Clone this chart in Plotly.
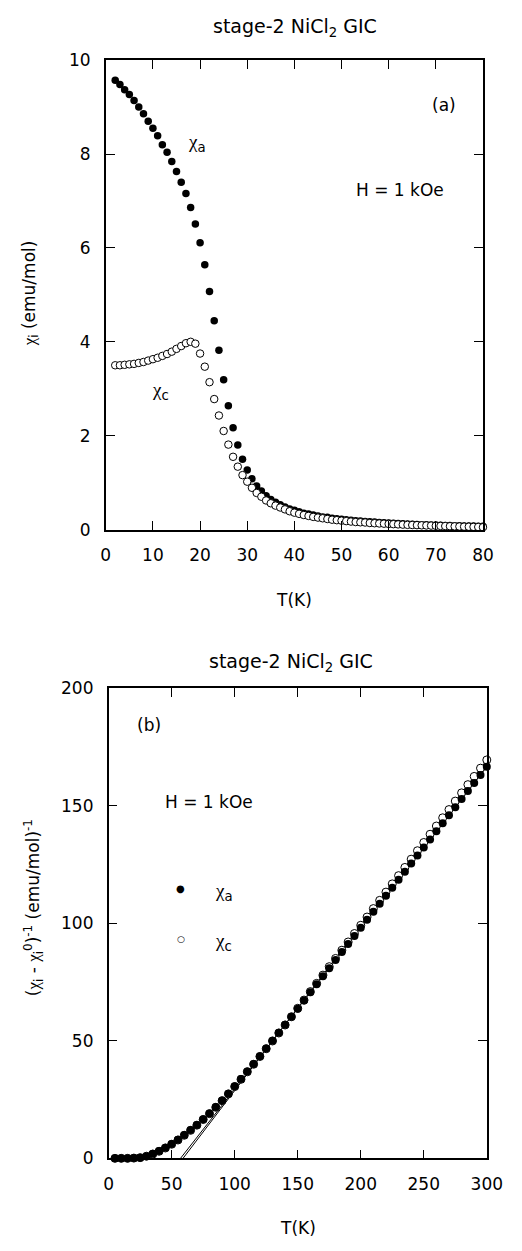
import plotly.graph_objects as go

# ---------------- data: panel (a) ----------------
T_a = list(range(2, 81))
chi_a_top = [9.57, 9.48, 9.37, 9.27, 9.14, 9.00, 8.86, 8.70, 8.55, 8.39, 8.20, 8.04, 7.84, 7.63, 7.40,
             7.16, 6.86, 6.51, 6.11, 5.64, 5.07, 4.45, 3.82, 3.19, 2.64, 2.17, 1.80, 1.50, 1.27, 1.08,
             0.93, 0.82, 0.72, 0.64, 0.58, 0.53, 0.48, 0.44, 0.41, 0.38, 0.35, 0.33, 0.31, 0.29, 0.27,
             0.26, 0.24, 0.23, 0.22, 0.21, 0.20, 0.19, 0.18, 0.17, 0.165, 0.16, 0.15, 0.145, 0.14, 0.135,
             0.13, 0.125, 0.12, 0.115, 0.11, 0.105, 0.10, 0.098, 0.095, 0.092, 0.089, 0.086, 0.083, 0.080,
             0.078, 0.076, 0.074, 0.072, 0.070]
chi_c_top = [3.50, 3.50, 3.51, 3.52, 3.53, 3.55, 3.57, 3.60, 3.63, 3.66, 3.70, 3.74, 3.79, 3.85, 3.91,
             3.97, 4.00, 3.96, 3.75, 3.47, 3.14, 2.78, 2.43, 2.10, 1.81, 1.55, 1.34, 1.16, 1.02, 0.89,
             0.78, 0.70, 0.62, 0.56, 0.51, 0.47, 0.43, 0.39, 0.36, 0.335, 0.31, 0.29, 0.27, 0.255, 0.24,
             0.225, 0.21, 0.20, 0.19, 0.18, 0.17, 0.16, 0.155, 0.15, 0.14, 0.135, 0.13, 0.125, 0.12, 0.115,
             0.11, 0.105, 0.10, 0.097, 0.094, 0.09, 0.087, 0.084, 0.08, 0.077, 0.074, 0.071, 0.068, 0.065,
             0.062, 0.06, 0.057, 0.055, 0.05]

# ---------------- data: panel (b) ----------------
T_b = list(range(5, 301, 5))
inv_a = [0.0, 0.0, 0.0, 0.1, 0.3, 0.9, 1.9, 3.1, 4.5, 6.1, 7.9, 9.9, 12.0, 14.2, 16.6, 19.1, 21.8, 24.6,
         27.5, 30.6, 33.7, 36.9, 40.1, 43.4, 46.7, 50.0, 53.4, 56.8, 60.2, 63.6, 67.1, 70.6, 74.0, 77.4,
         80.8, 84.3, 87.7, 91.1, 94.5, 98.0, 101.4, 104.8, 108.2, 111.7, 115.1, 118.5, 121.9, 125.4,
         128.8, 132.2, 135.6, 139.1, 142.5, 145.9, 149.3, 152.8, 156.2, 159.6, 163.0, 166.5]
inv_c = [0.0, 0.0, 0.0, 0.1, 0.3, 0.9, 1.8, 3.0, 4.4, 6.0, 7.8, 9.8, 11.9, 14.1, 16.5, 19.0, 21.7, 24.5,
         27.4, 30.5, 33.6, 36.8, 40.0, 43.3, 46.6, 49.9, 53.3, 56.7, 60.2, 63.8, 67.3, 70.9, 74.4, 77.9,
         81.5, 85.0, 88.5, 92.0, 95.6, 99.1, 102.6, 106.2, 109.7, 113.2, 116.7, 120.2, 123.7, 127.2,
         130.8, 134.3, 137.8, 141.3, 144.8, 148.3, 151.9, 155.4, 158.9, 162.4, 165.9, 169.4]
# Curie-Weiss fit lines (end points)
fit_a_T = [57, 300]
fit_a_y = [0, 166.5]
fit_c_T = [59, 300]
fit_c_y = [0, 169.4]

FONT = "DejaVu Sans, sans-serif"
CHI = '<span style="font-family:Liberation Serif">χ</span>'
W, H = 522, 1251

fig = go.Figure()

# panel (a)
fig.add_trace(go.Scatter(x=T_a, y=chi_a_top, mode="markers", xaxis="x", yaxis="y",
                         marker=dict(size=7.5, color="black", line=dict(width=0)),
                         cliponaxis=False, showlegend=False))
fig.add_trace(go.Scatter(x=T_a, y=chi_c_top, mode="markers", xaxis="x", yaxis="y",
                         marker=dict(size=7.5, color="white", line=dict(width=1, color="black")),
                         cliponaxis=False, showlegend=False))

# panel (b)
fig.add_trace(go.Scatter(x=fit_a_T, y=fit_a_y, mode="lines", xaxis="x2", yaxis="y2",
                         line=dict(color="black", width=1), showlegend=False))
fig.add_trace(go.Scatter(x=fit_c_T, y=fit_c_y, mode="lines", xaxis="x2", yaxis="y2",
                         line=dict(color="black", width=1), showlegend=False))
fig.add_trace(go.Scatter(x=T_b, y=inv_c, mode="markers", xaxis="x2", yaxis="y2",
                         marker=dict(size=8, color="white", line=dict(width=1, color="black")),
                         cliponaxis=False, showlegend=False))
fig.add_trace(go.Scatter(x=T_b, y=inv_a, mode="markers", xaxis="x2", yaxis="y2",
                         marker=dict(size=8, color="black", line=dict(width=0)),
                         cliponaxis=False, showlegend=False))

axis_common = dict(showline=True, linecolor="black", linewidth=1.6, mirror="ticks",
                   ticks="inside", ticklen=9, tickwidth=1, tickcolor="black",
                   showgrid=False, zeroline=False,
                   tickfont=dict(family=FONT, size=17, color="black"))

fig.update_layout(
    width=W, height=H,
    margin=dict(l=0, r=0, t=0, b=0),
    paper_bgcolor="white", plot_bgcolor="white",
    xaxis=dict(domain=[105 / W, 498 / W], range=[0, 80], dtick=10, anchor="y",
               ticklabelstandoff=9, **axis_common),
    yaxis=dict(domain=[1 - 528 / H, 1 - 51 / H], range=[0, 10], dtick=2, anchor="x",
               ticklabelstandoff=10, **axis_common),
    xaxis2=dict(domain=[108 / W, 502 / W], range=[0, 300], dtick=50, anchor="y2",
                ticklabelstandoff=9, **axis_common),
    yaxis2=dict(domain=[1 - 1167 / H, 1 - 689 / H], range=[0, 200], dtick=50, anchor="x2",
                ticklabelstandoff=10, **axis_common),
)

def ann(text, x, y, size=17, angle=0, xanchor="center"):
    fig.add_annotation(text=text, x=x, y=y, xref="paper", yref="paper", showarrow=False,
                       textangle=angle, xanchor=xanchor, yanchor="middle",
                       font=dict(family=FONT, size=size, color="black"))

def px(xp, yp):
    return xp / W, 1 - yp / H

# titles
ann("stage-2 NiCl<sub>2</sub> GIC", *px(302, 18), size=19)
ann("stage-2 NiCl<sub>2</sub> GIC", *px(298, 663), size=19)

# axis titles
ann("T(K)", *px(301, 600), size=17)
ann("T(K)", *px(305, 1238), size=17)
ann(CHI + "<sub>i</sub> (emu/mol)", *px(26, 288), size=17, angle=-90)
ann("(" + CHI + "<sub>i</sub> - " + CHI + "<sub>i</sub><sup>0</sup>)<sup>-1</sup> (emu/mol)<sup>-1</sup>",
    *px(30, 912), size=17, angle=-90)

# panel (a) labels
ann("(a)", *px(457, 97), size=17)
ann(CHI + "<sub>a</sub>", *px(200, 135), size=19)
ann(CHI + "<sub>c</sub>", *px(162, 387), size=19)
ann("H = 1 kOe", *px(364, 183), size=17, xanchor="left")

# panel (b) labels
ann("(b)", *px(150, 727), size=17)
ann("H = 1 kOe", *px(165, 805), size=17, xanchor="left")
ann(CHI + "<sub>a</sub>", *px(228, 896), size=19)
ann(CHI + "<sub>c</sub>", *px(228, 947), size=19)
ann("●", *px(183, 893), size=10)
ann("○", *px(183, 944), size=9)

fig.write_html("out.html")
